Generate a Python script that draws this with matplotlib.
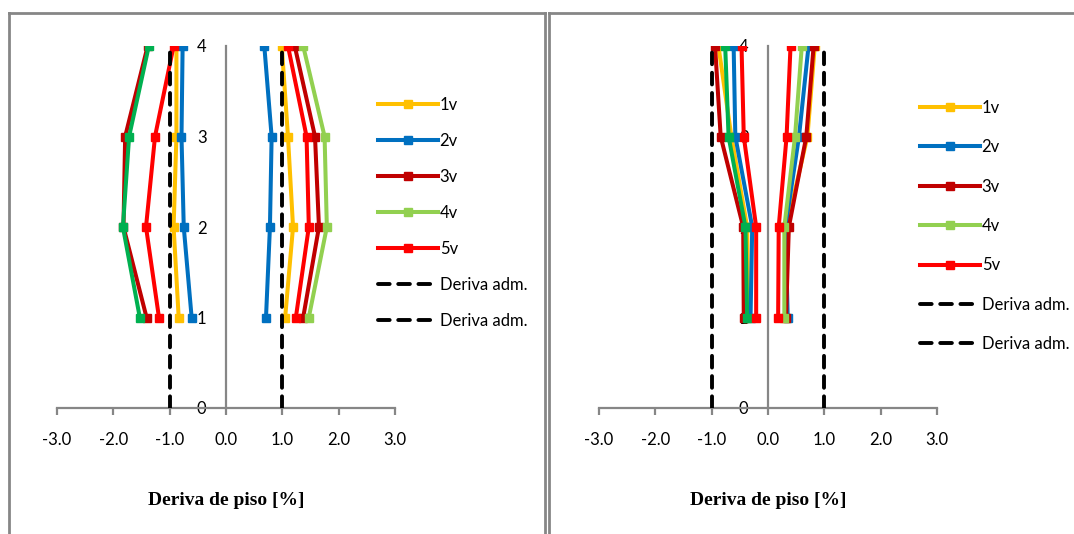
import matplotlib
matplotlib.use('Agg')
import matplotlib.pyplot as plt
from matplotlib.lines import Line2D

plt.rcParams['font.family'] = ['Lato', 'DejaVu Sans']

floors = [1, 2, 3, 4]
series = ['1v', '2v', '3v', '4v', '5v']
colors_pos = ['#FFC000', '#0070C0', '#C00000', '#92D050', '#FF0000']
colors_neg = ['#FFC000', '#0070C0', '#C00000', '#00B050', '#FF0000']
adm_label = 'Deriva adm.'
adm_limit = 1.0

# left chart, drift per floor 1..4 (positive and negative direction)
left_pos = [
    [1.05, 1.19, 1.10, 0.99],
    [0.71, 0.78, 0.81, 0.68],
    [1.37, 1.65, 1.58, 1.22],
    [1.47, 1.79, 1.75, 1.37],
    [1.24, 1.47, 1.43, 1.10],
]
left_neg = [
    [-0.84, -0.93, -0.88, -0.88],
    [-0.61, -0.75, -0.79, -0.77],
    [-1.41, -1.82, -1.79, -1.39],
    [-1.53, -1.83, -1.72, -1.37],
    [-1.19, -1.42, -1.26, -0.93],
]

# right chart
right_pos = [
    [0.33, 0.33, 0.70, 0.83],
    [0.35, 0.31, 0.55, 0.72],
    [0.32, 0.37, 0.68, 0.81],
    [0.29, 0.29, 0.48, 0.60],
    [0.18, 0.19, 0.33, 0.40],
]
right_neg = [
    [-0.35, -0.37, -0.65, -0.88],
    [-0.31, -0.28, -0.58, -0.61],
    [-0.43, -0.44, -0.84, -0.94],
    [-0.37, -0.40, -0.70, -0.76],
    [-0.21, -0.21, -0.43, -0.47],
]

W, H = 1074, 534
fig = plt.figure(figsize=(W / 100, H / 100), dpi=100)

gray = '#868686'

# chart frames
def frame_line(xs, ys):
    fig.add_artist(Line2D([x / W for x in xs], [1 - y / H for y in ys],
                          color=gray, lw=2.0, transform=fig.transFigure))

frame_line([9, 9], [13, H + 5])
frame_line([9, 545], [13, 13])
frame_line([545, 545], [13, H + 5])
frame_line([549, 549], [13, H + 5])
frame_line([549, W + 5], [13, 13])


def draw_chart(x_left, x_right, pos, neg, leg_anchor, leg_spacing):
    ax = fig.add_axes([x_left / W, 1 - 408 / H, (x_right - x_left) / W, (408 - 46) / H])
    for i, name in enumerate(series):
        ax.plot(pos[i], floors, color=colors_pos[i], lw=2.9, marker='s', ms=5.5,
                label=name, zorder=3)
    for i, name in enumerate(series):
        ax.plot(neg[i], floors, color=colors_neg[i], lw=2.9, marker='s', ms=5.5,
                zorder=3)
    for s in (-1, 1):
        ax.plot([s * adm_limit, s * adm_limit], [0, 4], color='black', lw=2.8,
                ls=(0, (3.0, 2.2)), dash_capstyle='round', label=adm_label, zorder=4)

    ax.set_xlim(-3, 3)
    ax.set_ylim(0, 4)
    ax.spines['left'].set_position(('data', 0))
    ax.spines['right'].set_visible(False)
    ax.spines['top'].set_visible(False)
    for sp in ('left', 'bottom'):
        ax.spines[sp].set_color(gray)
        ax.spines[sp].set_linewidth(1.6)
    ax.set_xticks([-3, -2, -1, 0, 1, 2, 3])
    ax.set_xticklabels([f'{v:.1f}' for v in [-3, -2, -1, 0, 1, 2, 3]])
    ax.set_yticks([0, 1, 2, 3, 4])
    ax.tick_params(axis='x', direction='out', length=5, width=1.6, color=gray,
                   labelsize=12, pad=12)
    ax.tick_params(axis='y', length=0, labelsize=12, pad=14)
    ax.patch.set_visible(False)
    ax.set_xlabel('Deriva de piso [%]', fontsize=14, fontweight='bold',
                  family='Liberation Serif', labelpad=32)
    ax.legend(loc='upper left', bbox_to_anchor=leg_anchor,
              bbox_transform=fig.transFigure, frameon=False, fontsize=12,
              handlelength=3.6, handletextpad=0.1, labelspacing=leg_spacing,
              borderpad=0, borderaxespad=0)
    return ax


draw_chart(57, 395, left_pos, left_neg, (378 / W, 1 - 97 / H), 1.2)
draw_chart(599, 937, right_pos, right_neg, (920 / W, 1 - 100 / H), 1.4)

fig.savefig('out.png', dpi=100)
